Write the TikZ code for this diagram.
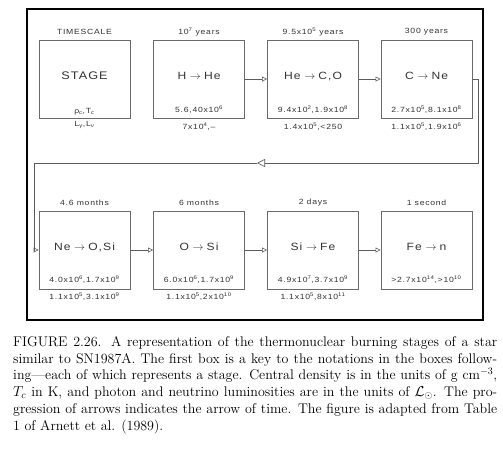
\documentclass[tikz,border=0pt]{standalone}
\usepackage{fontspec}
\usetikzlibrary{arrows.meta}
\newfontfamily\plt[FakeStretch=1.15,LetterSpace=10]{Liberation Sans}
\newcommand{\tto}{\hspace{0.35em}$\rightarrow$\hspace{0.3em}}
\definecolor{ink}{HTML}{333333}
\definecolor{boxline}{HTML}{6A6A6A}
\tikzset{
  stagebox/.style={draw=boxline,line width=0.8pt,minimum width=91pt,minimum height=78pt,inner sep=0pt},
  ttl/.style={font=\plt\fontsize{7.5}{8}\selectfont,text=ink,inner sep=0pt},
  mainlbl/.style={font=\plt\fontsize{10.5}{11}\selectfont,text=ink,inner sep=0pt},
  small/.style={font=\plt\fontsize{7.5}{8}\selectfont,text=ink,inner sep=0pt},
  conn/.style={draw=ink!80,line width=0.6pt,-{Triangle[open,length=5pt,width=5pt]}},
  bigtip/.style={draw=ink!80,line width=0.6pt,-{Triangle[open,length=8pt,width=8pt]}},
  plain/.style={draw=ink!80,line width=0.6pt}
}
\begin{document}
\begin{tikzpicture}[x=1pt,y=-1pt]
\useasboundingbox (0,0) rectangle (503,459);
\fill[white] (0,0) rectangle (503,459);
% frame
\draw[line width=1.3pt,black] (27,9) rectangle (483,320);
% boxes row 1
\node[stagebox] (b1) at (84.5,79) {};
\node[stagebox] (b2) at (199,79) {};
\node[stagebox] (b3) at (313,79) {};
\node[stagebox] (b4) at (426.5,79) {};
% boxes row 2
\node[stagebox] (b5) at (84.5,250) {};
\node[stagebox] (b6) at (199,250) {};
\node[stagebox] (b7) at (313,250) {};
\node[stagebox] (b8) at (426.5,250) {};
% key box
\node[ttl] (t1) at (84.5,32) {TIMESCALE};
\node[font=\plt\fontsize{11}{12}\selectfont,text=ink,inner sep=0pt] (m1) at (84.5,76) {STAGE};
\node[small] (i1) at (84.5,112) {ρ\textsubscript{c},T\textsubscript{c}};
\node[small] (u1) at (84.5,125) {L\textsubscript{γ},L\textsubscript{ν}};
% box 2
\node[ttl] (t2) at (199,32) {10\textsuperscript{7} years};
\node[mainlbl] (m2) at (199,76) {H\tto He};
\node[small] (i2) at (199,110) {5.6,40x10\textsuperscript{6}};
\node[small] (u2) at (199,127) {7x10\textsuperscript{4},–};
% box 3
\node[ttl] (t3) at (313,32) {9.5x10\textsuperscript{5} years};
\node[mainlbl] (m3) at (313,76) {He\tto C,O};
\node[small] (i3) at (313,110) {9.4x10\textsuperscript{2},1.9x10\textsuperscript{8}};
\node[small] (u3) at (313,127) {1.4x10\textsuperscript{5},<250};
% box 4
\node[ttl] (t4) at (426.5,32) {300 years};
\node[mainlbl] (m4) at (426.5,76) {C\tto Ne};
\node[small] (i4) at (426.5,110) {2.7x10\textsuperscript{5},8.1x10\textsuperscript{8}};
\node[small] (u4) at (426.5,127) {1.1x10\textsuperscript{5},1.9x10\textsuperscript{6}};
% box 5
\node[ttl] (t5) at (84.5,203) {4.6 months};
\node[mainlbl] (m5) at (84.5,247) {Ne\tto O,Si};
\node[small] (i5) at (84.5,280) {4.0x10\textsuperscript{6},1.7x10\textsuperscript{9}};
\node[small] (u5) at (84.5,297) {1.1x10\textsuperscript{5},3.1x10\textsuperscript{9}};
% box 6
\node[ttl] (t6) at (199,203) {6 months};
\node[mainlbl] (m6) at (199,247) {O\tto Si};
\node[small] (i6) at (199,280) {6.0x10\textsuperscript{6},1.7x10\textsuperscript{9}};
\node[small] (u6) at (199,297) {1.1x10\textsuperscript{5},2x10\textsuperscript{10}};
% box 7
\node[ttl] (t7) at (313,203) {2 days};
\node[mainlbl] (m7) at (313,247) {Si\tto Fe};
\node[small] (i7) at (313,280) {4.9x10\textsuperscript{7},3.7x10\textsuperscript{9}};
\node[small] (u7) at (313,297) {1.1x10\textsuperscript{5},8x10\textsuperscript{11}};
% box 8
\node[ttl] (t8) at (426.5,203) {1 second};
\node[mainlbl] (m8) at (426.5,247) {Fe\tto n};
\node[small] (i8) at (426.5,280) {>2.7x10\textsuperscript{14},>10\textsuperscript{10}};
% connectors
\draw[conn] (b2.east) -- (b3.west);
\draw[conn] (b3.east) -- (b4.west);
\coordinate (r1) at (478,163);
\coordinate (mid) at (257,163);
\coordinate (l1) at (34,163);
\draw[bigtip] (b4.east) -| (r1) -- (mid);
\draw[conn] (mid) -- (l1) |- (b5.west);
\draw[conn] (b5.east) -- (b6.west);
\draw[conn] (b6.east) -- (b7.west);
\draw[conn] (b7.east) -- (b8.west);
% caption
\node[anchor=north west,text width=484pt,inner sep=0pt,align=justify,
      font=\fontsize{14}{16.8}\selectfont] (cap) at (13,336) {FIGURE 2.26. A representation of the thermonuclear burning stages of a star\linebreak
similar to SN1987A. The first box is a key to the notations in the boxes follow-\linebreak
ing---each of which represents a stage. Central density is in the units of g~cm$^{-3}$,\linebreak
$T_c$ in K, and photon and neutrino luminosities are in the units of $\mathcal{L}_\odot$. The pro-\linebreak
gression of arrows indicates the arrow of time. The figure is adapted from Table\linebreak
1 of Arnett et al. (1989).};
\end{tikzpicture}
\end{document}
